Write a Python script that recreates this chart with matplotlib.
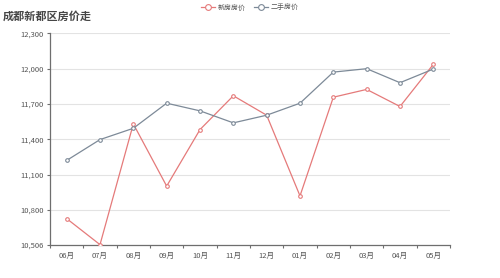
import matplotlib
matplotlib.use('Agg')
import matplotlib.pyplot as plt
from matplotlib.ticker import FuncFormatter, MultipleLocator

plt.rcParams['font.family'] = ['Noto Sans CJK SC', 'DejaVu Sans']

# 数据
months = ['06月', '07月', '08月', '09月', '10月', '11月', '12月', '01月', '02月', '03月', '04月', '05月']
new_price = [10727, 10506, 11531, 11003, 11483, 11770, 11605, 10920, 11758, 11824, 11679, 12037]
old_price = [11221, 11398, 11494, 11707, 11642, 11540, 11605, 11707, 11971, 12000, 11881, 11997]
y_ticks = [10506, 10800, 11100, 11400, 11700, 12000, 12300]

red = '#e57a7a'
gray = '#7d8a98'
axis_col = '#6e6e6e'
text_col = '#555555'

fig = plt.figure(figsize=(5, 2.78), dpi=100)
ax = fig.add_axes([0.1, 0.12, 0.8, 0.76])

x = list(range(len(months)))
ax.plot(x, new_price, color=red, lw=0.9, marker='o', ms=2.6, mfc='white', mec=red, mew=0.8, label='新房房价', zorder=3)
ax.plot(x, old_price, color=gray, lw=0.9, marker='o', ms=2.6, mfc='white', mec=gray, mew=0.8, label='二手房价', zorder=3)

ax.set_xlim(-0.5, len(months) - 0.5)
ax.set_ylim(10506, 12300)
ax.set_yticks(y_ticks)
ax.yaxis.set_major_formatter(FuncFormatter(lambda v, p: '{:,}'.format(int(v))))
ax.grid(axis='y', color='#e3e3e3', lw=0.8)
ax.set_axisbelow(True)

ax.set_xticks(x)
ax.set_xticklabels(months)
ax.xaxis.set_minor_locator(MultipleLocator(1))
ax.set_xticks([i - 0.5 for i in range(len(months) + 1)], minor=True)
ax.tick_params(axis='x', which='major', length=0, pad=5, labelsize=5.5, labelcolor=text_col)
ax.tick_params(axis='x', which='minor', length=2.5, width=0.8, color=axis_col)
ax.tick_params(axis='y', length=2.5, width=0.8, color=axis_col, labelsize=5.5, labelcolor=text_col, pad=2)

for s in ['top', 'right']:
    ax.spines[s].set_visible(False)
for s in ['left', 'bottom']:
    ax.spines[s].set_color(axis_col)
    ax.spines[s].set_linewidth(0.9)

fig.text(0.006, 0.965, '成都新都区房价走', fontsize=8, fontweight='bold', color='#464646', va='top', ha='left')

fig.legend(loc='upper center', bbox_to_anchor=(0.5, 1.01), ncol=2, frameon=False, fontsize=5,
           labelcolor=text_col, handlelength=2.0, handletextpad=0.4, columnspacing=1.2, markerscale=1.6)

fig.savefig('out.png', dpi=100)
